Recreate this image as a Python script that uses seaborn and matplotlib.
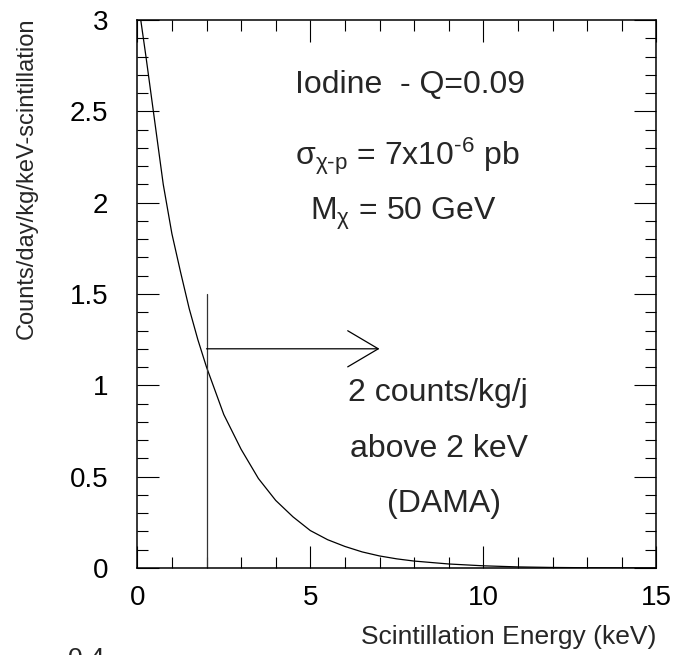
import matplotlib
matplotlib.use("Agg")
import matplotlib.pyplot as plt
from matplotlib.ticker import MultipleLocator, FixedLocator, FixedFormatter
import pandas as pd
import seaborn as sns

# ---- data ----
energy = [0.1, 0.25, 0.5, 0.75, 1.0, 1.25, 1.5, 1.75, 2.0, 2.5, 3.0, 3.5, 4.0,
          4.5, 5.0, 5.5, 6.0, 6.5, 7.0, 7.5, 8.0, 9.0, 10.0, 11.0, 12.0, 13.0,
          14.0, 15.0]
rate = [3.0, 2.8, 2.45, 2.1, 1.83, 1.62, 1.42, 1.25, 1.10, 0.84, 0.65, 0.49,
        0.37, 0.28, 0.205, 0.155, 0.118, 0.088, 0.066, 0.05, 0.038, 0.022,
        0.012, 0.006, 0.003, 0.0015, 0.0008, 0.0004]
x_ticks = [0, 5, 10, 15]
x_tick_labels = ["0", "5", "10", "15"]
y_ticks = [0, 0.5, 1, 1.5, 2, 2.5, 3]
y_tick_labels = ["0", "0.5", "1", "1.5", "2", "2.5", "3"]
threshold_energy = 2.0
threshold_top = 1.5
arrow_level = 1.2
arrow_end = 7.0

df = pd.DataFrame({"energy": energy, "rate": rate})

sns.set_theme(style="ticks")
plt.rcParams["font.family"] = ["Liberation Sans", "DejaVu Sans"]
plt.rcParams["mathtext.fontset"] = "custom"
plt.rcParams["mathtext.rm"] = "Liberation Sans"
plt.rcParams["mathtext.it"] = "Liberation Sans"
plt.rcParams["mathtext.sf"] = "Liberation Sans"
plt.rcParams["mathtext.bf"] = "Liberation Sans:bold"

W, H = 673, 655
fig = plt.figure(figsize=(W / 100, H / 100), dpi=100)
fig.patch.set_facecolor("white")
ax = fig.add_axes([137.3 / W, 1 - 568 / H, (656.3 - 137.3) / W, (568 - 20) / H])
ax.set_facecolor("white")

sns.lineplot(data=df, x="energy", y="rate", color="black", linewidth=0.9,
             ax=ax, legend=False)

ax.set_xlim(0, 15)
ax.set_ylim(0, 3)

# threshold line and arrow
ax.plot([threshold_energy, threshold_energy], [0, threshold_top],
        color="#333333", linewidth=0.9)
ax.annotate("", xy=(arrow_end, arrow_level), xytext=(threshold_energy, arrow_level),
            arrowprops=dict(arrowstyle="->,head_length=2.2,head_width=1.3",
                            mutation_scale=10, lw=0.9, color="black",
                            shrinkA=0, shrinkB=0))

# ticks
ax.xaxis.set_major_locator(FixedLocator(x_ticks))
ax.xaxis.set_major_formatter(FixedFormatter(x_tick_labels))
ax.yaxis.set_major_locator(FixedLocator(y_ticks))
ax.yaxis.set_major_formatter(FixedFormatter(y_tick_labels))
ax.xaxis.set_minor_locator(MultipleLocator(1))
ax.yaxis.set_minor_locator(MultipleLocator(0.1))
ax.tick_params(which="both", direction="in", top=True, right=True,
               width=0.8, color="black", labelcolor="black")
ax.tick_params(which="major", length=16, labelsize=20)
ax.tick_params(which="minor", length=8)
ax.tick_params(axis="y", which="major", pad=21)
ax.tick_params(axis="x", which="major", pad=12.5)
for s in ax.spines.values():
    s.set_linewidth(1.1)
    s.set_color("black")

# labels
ax.set_xlabel("Scintillation Energy (keV)", fontsize=19, loc="right")
ax.xaxis.set_label_coords(1.0, -0.104)
ax.set_ylabel("Counts/day/kg/keV-scintillation", fontsize=17, loc="top")
ax.yaxis.set_label_coords(-0.191, 1.005)

# annotations
fs = 23
ax.text(11.2, 2.60, "Iodine  - Q=0.09", fontsize=fs, ha="right", va="baseline")
ax.text(11.06, 2.206, r"$\mathregular{σ_{χ\text{-}p}}$ = 7x10$^{\text{-}6}$ pb",
        fontsize=fs, ha="right", va="baseline")
ax.text(10.39, 1.905, r"M$_{χ}$ = 50 GeV", fontsize=fs, ha="right", va="baseline")
ax.text(6.08, 0.914, "2 counts/kg/j", fontsize=fs, ha="left", va="baseline")
ax.text(6.14, 0.608, "above 2 keV", fontsize=fs, ha="left", va="baseline")
ax.text(7.21, 0.307, "(DAMA)", fontsize=fs, ha="left", va="baseline")

# stray clipped label at the bottom left (cut by the bottom edge as in the reference)
fig.text(68 / W, 1 - 647 / H, "0.4", fontsize=19, ha="left", va="top")

fig.savefig("out.png", dpi=100, facecolor="white")
